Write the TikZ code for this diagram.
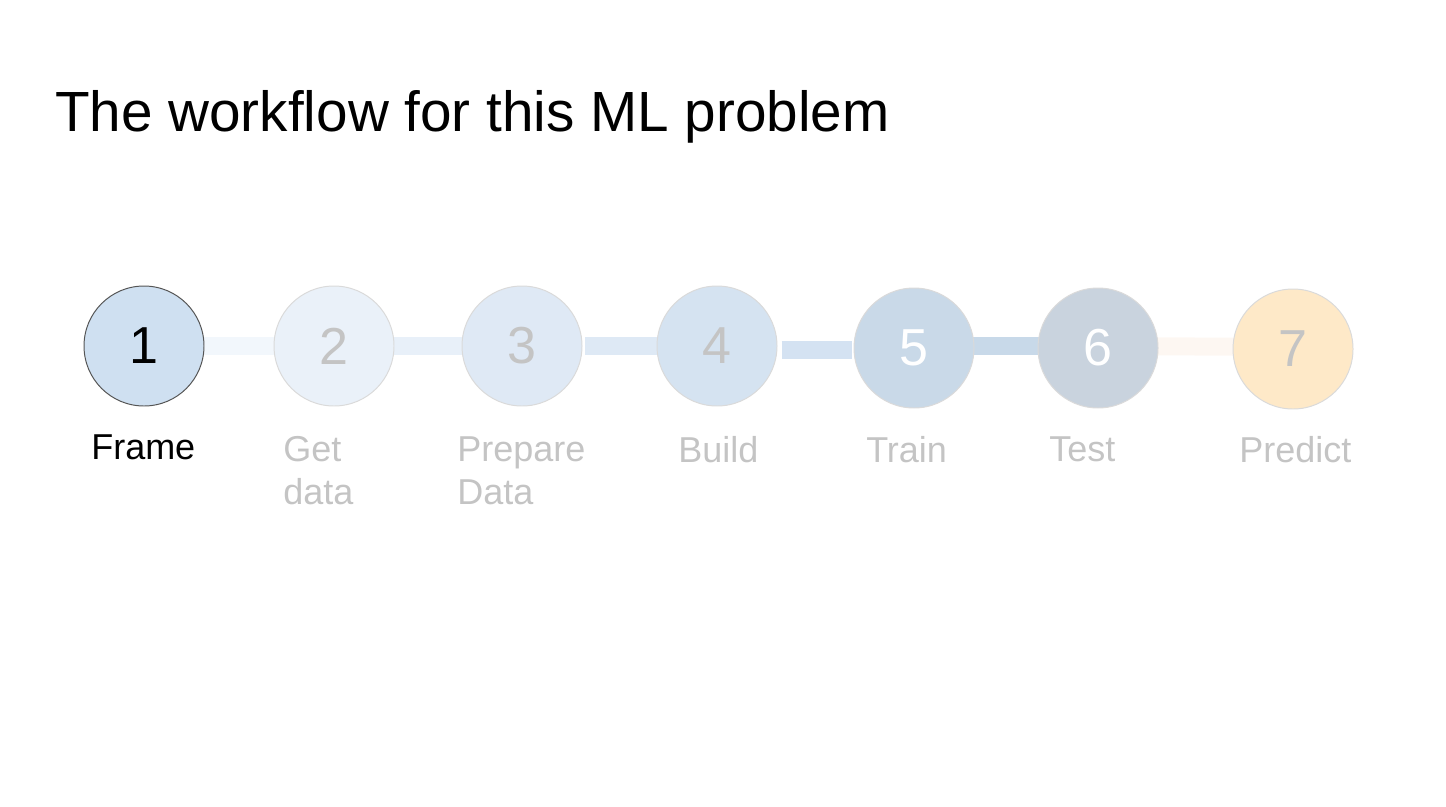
\documentclass[tikz,border=0pt]{standalone}
\usepackage{fontspec}
\setmainfont{Liberation Sans}
\usepackage{tikz}
\usetikzlibrary{backgrounds}
\definecolor{stepone}{HTML}{CFE0F1}
\definecolor{steptwo}{HTML}{EAF1F9}
\definecolor{stepthree}{HTML}{DFE9F5}
\definecolor{stepfour}{HTML}{D5E3F1}
\definecolor{stepfive}{HTML}{C9D9E8}
\definecolor{stepsix}{HTML}{C9D3DE}
\definecolor{stepseven}{HTML}{FEE9C8}
\definecolor{faded}{HTML}{C4C4C4}
\definecolor{rim}{HTML}{DADADA}
\newcommand{\radius}{3cm}
\newcommand{\barwidth}{0.45cm}
\newcommand{\numfont}{\fontsize{37}{44}\selectfont}
\newcommand{\labfont}{\fontsize{25.6}{30.6}\selectfont}

\begin{document}
\begin{tikzpicture}
\useasboundingbox (0,0) rectangle (36.15,-20.15);
\tikzset{
  stepcircle/.style={circle, minimum size=\radius, inner sep=0pt, draw=rim, line width=0.7pt, font=\numfont},
  steplabel/.style={anchor=north west, inner sep=0pt, align=left, font=\labfont, text=faded}
}
\node[anchor=base west, inner sep=0pt, font=\fontsize{40.3}{48}\selectfont] (title) at (1.375, -3.275) {The workflow for this ML problem};
\node[stepcircle, fill=stepone, draw={rgb,255:red,85;green,85;blue,85}] (1) at (3.6, -8.65) {1};
\node[stepcircle, fill=steptwo, text=faded] (2) at (8.35, -8.65) {2};
\node[stepcircle, fill=stepthree, text=faded] (3) at (13.05, -8.65) {3};
\node[stepcircle, fill=stepfour, text=faded] (4) at (17.925, -8.65) {4};
\node[stepcircle, fill=stepfive, text=white] (5) at (22.85, -8.7) {5};
\node[stepcircle, fill=stepsix, text=white] (6) at (27.45, -8.7) {6};
\node[stepcircle, fill=stepseven, text=faded] (7) at (32.325, -8.725) {7};
%labels
\node[steplabel, text=black] (l1) at (2.275, -10.85) {Frame};
\node[steplabel] (l2) at (7.075, -10.9) {Get\\data};
\node[steplabel] (l3) at (11.425, -10.9) {Prepare\\Data};
\node[steplabel] (l4) at (16.95, -10.9) {Build};
\node[steplabel] (l5) at (21.65, -10.9) {Train};
\node[steplabel] (l6) at (26.225, -10.9) {Test};
\node[steplabel] (l7) at (30.975, -10.9) {Predict};
%bars
\begin{scope}[on background layer]
\draw[color={rgb,255:red,242;green,247;blue,252}] [line width = \barwidth] (1.center) -- (2.center);
\draw[color={rgb,255:red,232;green,240;blue,249}] [line width = \barwidth] (2.center) -- (3.center);
\draw[color={rgb,255:red,222;green,233;blue,245}] [line width = \barwidth, shorten <=0.07cm] (3.east) -- (4.west);
\draw[color={rgb,255:red,212;green,226;blue,242}] [line width = \barwidth, shorten <=0.1cm, shorten >=0.05cm] ([yshift=-0.1cm]4.east) -- ([yshift=-0.05cm]5.west);
\draw[color={rgb,255:red,200;green,217;blue,233}] [line width = \barwidth] ([yshift=0.05cm]5.center) -- ([yshift=0.05cm]6.center);
\draw[color={rgb,255:red,253;green,247;blue,242}] [line width = \barwidth] ([yshift=0.05cm]6.center) -- ([yshift=0.05cm]7.center);
\end{scope}
\end{tikzpicture}
\end{document}
